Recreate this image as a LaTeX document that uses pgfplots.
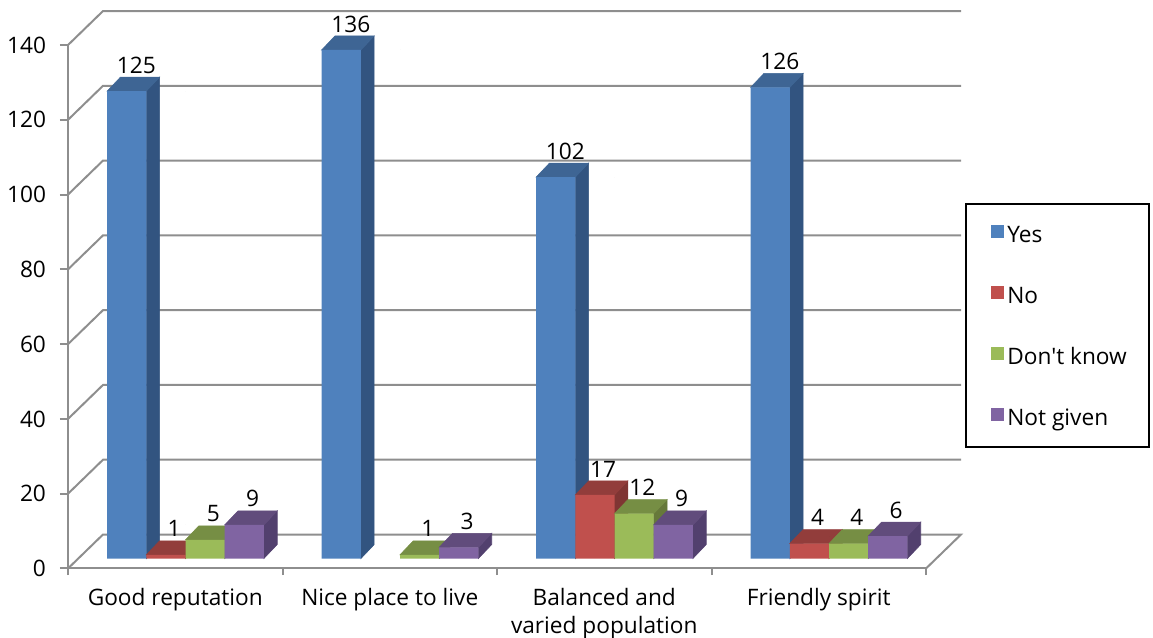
\documentclass[border=0pt]{standalone}
\usepackage{pgfplots}
\usepackage{pgfplotstable}
\usepackage{fontspec}
\setmainfont{Open Sans}
\newfontfamily\nomap{Open Sans}
\pgfplotsset{compat=1.18}
\definecolor{gridgrey}{HTML}{8E8E8E}
\definecolor{bluefront}{HTML}{4F81BD}\definecolor{bluetop}{HTML}{3E6594}\definecolor{blueside}{HTML}{325480}
\definecolor{redfront}{HTML}{C0504D}\definecolor{redtop}{HTML}{923D3B}\definecolor{redside}{HTML}{7F3533}
\definecolor{greenfront}{HTML}{9BBB59}\definecolor{greentop}{HTML}{768E44}\definecolor{greenside}{HTML}{66793A}
\definecolor{purplefront}{HTML}{8064A2}\definecolor{purpletop}{HTML}{614C7C}\definecolor{purpleside}{HTML}{52406E}
\pgfplotstableread{
x v
0 125
1 136
2 102
3 126
}\yesdata
\pgfplotstableread{
x v
0 1
2 17
3 4
}\nodata
\pgfplotstableread{
x v
0 5
1 1
2 12
3 4
}\dkdata
\pgfplotstableread{
x v
0 9
1 3
2 9
3 6
}\ngdata
\pgfplotsset{
  faces/.style n args={3}{only marks, forget plot, scatter, mark=*, mark size=0pt,
    visualization depends on={\thisrow{v}\as\vv},
    scatter/@pre marker code/.code={%
      \pgfmathsetlengthmacro\hh{\vv*2.805pt}%
      \pgfmathsetlengthmacro\xl{#1-14.7pt}%
      \pgfmathsetlengthmacro\xr{#1+14.7pt}%
      \fill[#3] (\xr,0pt) -- ++(10pt,10.5pt) -- ++(0pt,-\hh) -- ++(-10pt,-10.5pt) -- cycle;
      \fill[#2] (\xl,0pt) -- (\xr,0pt) -- ++(10pt,10.5pt) -- ++(-29.4pt,0pt) -- cycle;
    },
    scatter/@post marker code/.code={},
  },
  front/.style n args={3}{ybar, bar width=29.4pt, bar shift=#1, fill=#3, draw=none,
    point meta=y, nodes near coords,
    every node near coord/.append style={anchor=center, xshift=#2, yshift=19.5pt, font=\fontsize{17}{20}\selectfont, text=black},
  },
}
\begin{document}
\begin{tikzpicture}
\path[use as bounding box] (-51pt,-52.125pt) rectangle (813.75pt,426.375pt);
% frame: walls and floor
\begin{axis}[
  at={(0pt,0pt)}, scale only axis, width=643.5pt, height=392.6pt,
  xmin=0, xmax=858, ymin=0, ymax=140, clip=false,
  axis x line*=bottom, axis y line*=left,
  axis line style={draw=gridgrey, line width=1.5pt, -},
  ytick={0,20,...,140},
  xtick={107.25,321.75,536.25,750.75},
  xticklabels={Good reputation,Nice place to live,{Balanced and\\varied population},Friendly spirit},
  minor xtick={0,214.5,429,643.5,858},
  major x tick style={draw=none},
  minor x tick style={draw=gridgrey, line width=1.5pt},
  y tick style={draw=gridgrey, line width=1.5pt},
  tick align=outside, major tick length=6pt, minor tick length=5pt,
  x tick label style={font=\fontsize{17}{21}\selectfont, align=center, anchor=north, yshift=-5.5pt},
  y tick label style={font=\fontsize{17}{20}\selectfont, anchor=east, xshift=-7pt},
  /pgf/number format/assume math mode=true,
]
\addplot[gridgrey, line width=1.5pt] coordinates {(0,0)(35,9.09)(893,9.09)(858,0)};
\addplot[gridgrey, line width=1.5pt] coordinates {(0,20)(35,29.09)(893,29.09)};
\addplot[gridgrey, line width=1.5pt] coordinates {(0,40)(35,49.09)(893,49.09)};
\addplot[gridgrey, line width=1.5pt] coordinates {(0,60)(35,69.09)(893,69.09)};
\addplot[gridgrey, line width=1.5pt] coordinates {(0,80)(35,89.09)(893,89.09)};
\addplot[gridgrey, line width=1.5pt] coordinates {(0,100)(35,109.09)(893,109.09)};
\addplot[gridgrey, line width=1.5pt] coordinates {(0,120)(35,129.09)(893,129.09)};
\addplot[gridgrey, line width=1.5pt] coordinates {(0,140)(35,149.09)(893,149.09)};
\end{axis}
% bars
\begin{axis}[
  at={(0pt,0pt)}, scale only axis, width=643.5pt, height=392.6pt,
  xmin=-0.5478, xmax=3.4522, ymin=-2.67, ymax=137.33, clip=false, clip mode=individual, hide axis,
  /pgf/number format/assume math mode=true,
  legend image code/.code={\path (0pt,0pt); \path[#1] (2.25pt,-2.625pt) rectangle (12pt,7.125pt);},
  legend cell align=left,
  legend style={at={(1.0455,0.6983)}, anchor=north west, draw=black, line width=1.5pt,
    inner xsep=16.5pt, inner ysep=14.7pt, row sep=29.75pt, fill=white,
    nodes={inner sep=0pt, text height=14.25pt, text depth=1.75pt, font=\fontsize{17}{20}\selectfont},
    /tikz/every odd column/.append style={column sep=2.5pt}},
]
\addplot[faces={-44.1pt}{bluetop}{blueside}] table[x=x,y=v] {\yesdata};
\addplot[front={-44.1pt}{-36.9pt}{bluefront}] table[x=x,y=v] {\yesdata};
\addlegendentry{Yes}
\addplot[faces={-14.7pt}{redtop}{redside}] table[x=x,y=v] {\nodata};
\addplot[front={-14.7pt}{-8.5pt}{redfront}] table[x=x,y=v] {\nodata};
\addlegendentry{No}
\addplot[faces={14.7pt}{greentop}{greenside}] table[x=x,y=v] {\dkdata};
\addplot[front={14.7pt}{20.9pt}{greenfront}] table[x=x,y=v] {\dkdata};
\addlegendentry{{\nomap Don't know}}
\addplot[faces={44.1pt}{purpletop}{purpleside}] table[x=x,y=v] {\ngdata};
\addplot[front={44.1pt}{50.3pt}{purplefront}] table[x=x,y=v] {\ngdata};
\addlegendentry{Not given}
\end{axis}
\end{tikzpicture}
\end{document}
